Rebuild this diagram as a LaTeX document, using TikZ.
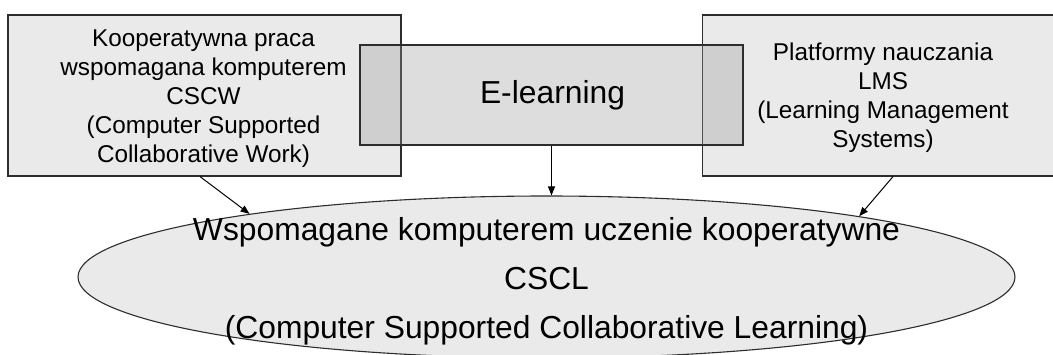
\documentclass[tikz,border=0pt]{standalone}
\usepackage{fontspec}
\setmainfont{Liberation Sans}
\usetikzlibrary{arrows.meta,shapes.geometric}
\definecolor{boxfill}{RGB}{234,234,234}
\definecolor{midfill}{RGB}{153,153,153}
\definecolor{edge}{RGB}{45,45,45}
\begin{document}
\begin{tikzpicture}[x=1pt,y=-1pt,
  outerbox/.style={draw=edge,fill=boxfill,line width=1.1pt,rectangle,inner sep=0pt},
  midbox/.style={draw=edge,fill=midfill,fill opacity=0.333,draw opacity=1,line width=1.1pt,rectangle,inner sep=0pt},
  oval/.style={draw=edge,fill=boxfill,line width=1.1pt,ellipse,inner sep=0pt},
  boxtext/.style={align=center,inner sep=0pt,font=\fontsize{24.3}{29}\selectfont},
  bigtext/.style={align=center,inner sep=0pt,font=\fontsize{31.8}{49}\selectfont},
  conn/.style={draw=black,line width=1pt,-{Triangle[length=9pt,width=7pt]}}]
\useasboundingbox (0,0) rectangle (1053,354);
\clip (0,0) rectangle (1053,354);
\node[outerbox,minimum width=393pt,minimum height=161pt] (L) at (204.5,95.5) {};
\node[outerbox,minimum width=362pt,minimum height=161pt] (R) at (883.5,95.5) {};
\node[midbox,minimum width=383pt,minimum height=100pt] (C) at (551.5,95) {};
\node[boxtext] (Lt) at (203.5,99) {Kooperatywna praca\\wspomagana komputerem\\CSCW\\(Computer Supported\\Collaborative Work)};
\node[boxtext] (Rt) at (883,97.5) {Platformy nauczania\\LMS\\(Learning Management\\Systems)};
\node[inner sep=0pt,font=\fontsize{31.8}{38}\selectfont] (Ct) at (552.5,95) {E-learning};
\node[oval,minimum width=937pt,minimum height=162pt] (E) at (546.5,277) {};
\node[bigtext] (Et) at (546.5,281) {Wspomagane komputerem uczenie kooperatywne\\CSCL\\(Computer Supported Collaborative Learning)};
\draw[conn] ([xshift=-4.5pt]L.south) -- (E.168.6);
\draw[conn] ([xshift=9.5pt]R.south) -- (E.11.0);
\draw[conn] (C.south) -- (C.south |- E.north);
\end{tikzpicture}
\end{document}
